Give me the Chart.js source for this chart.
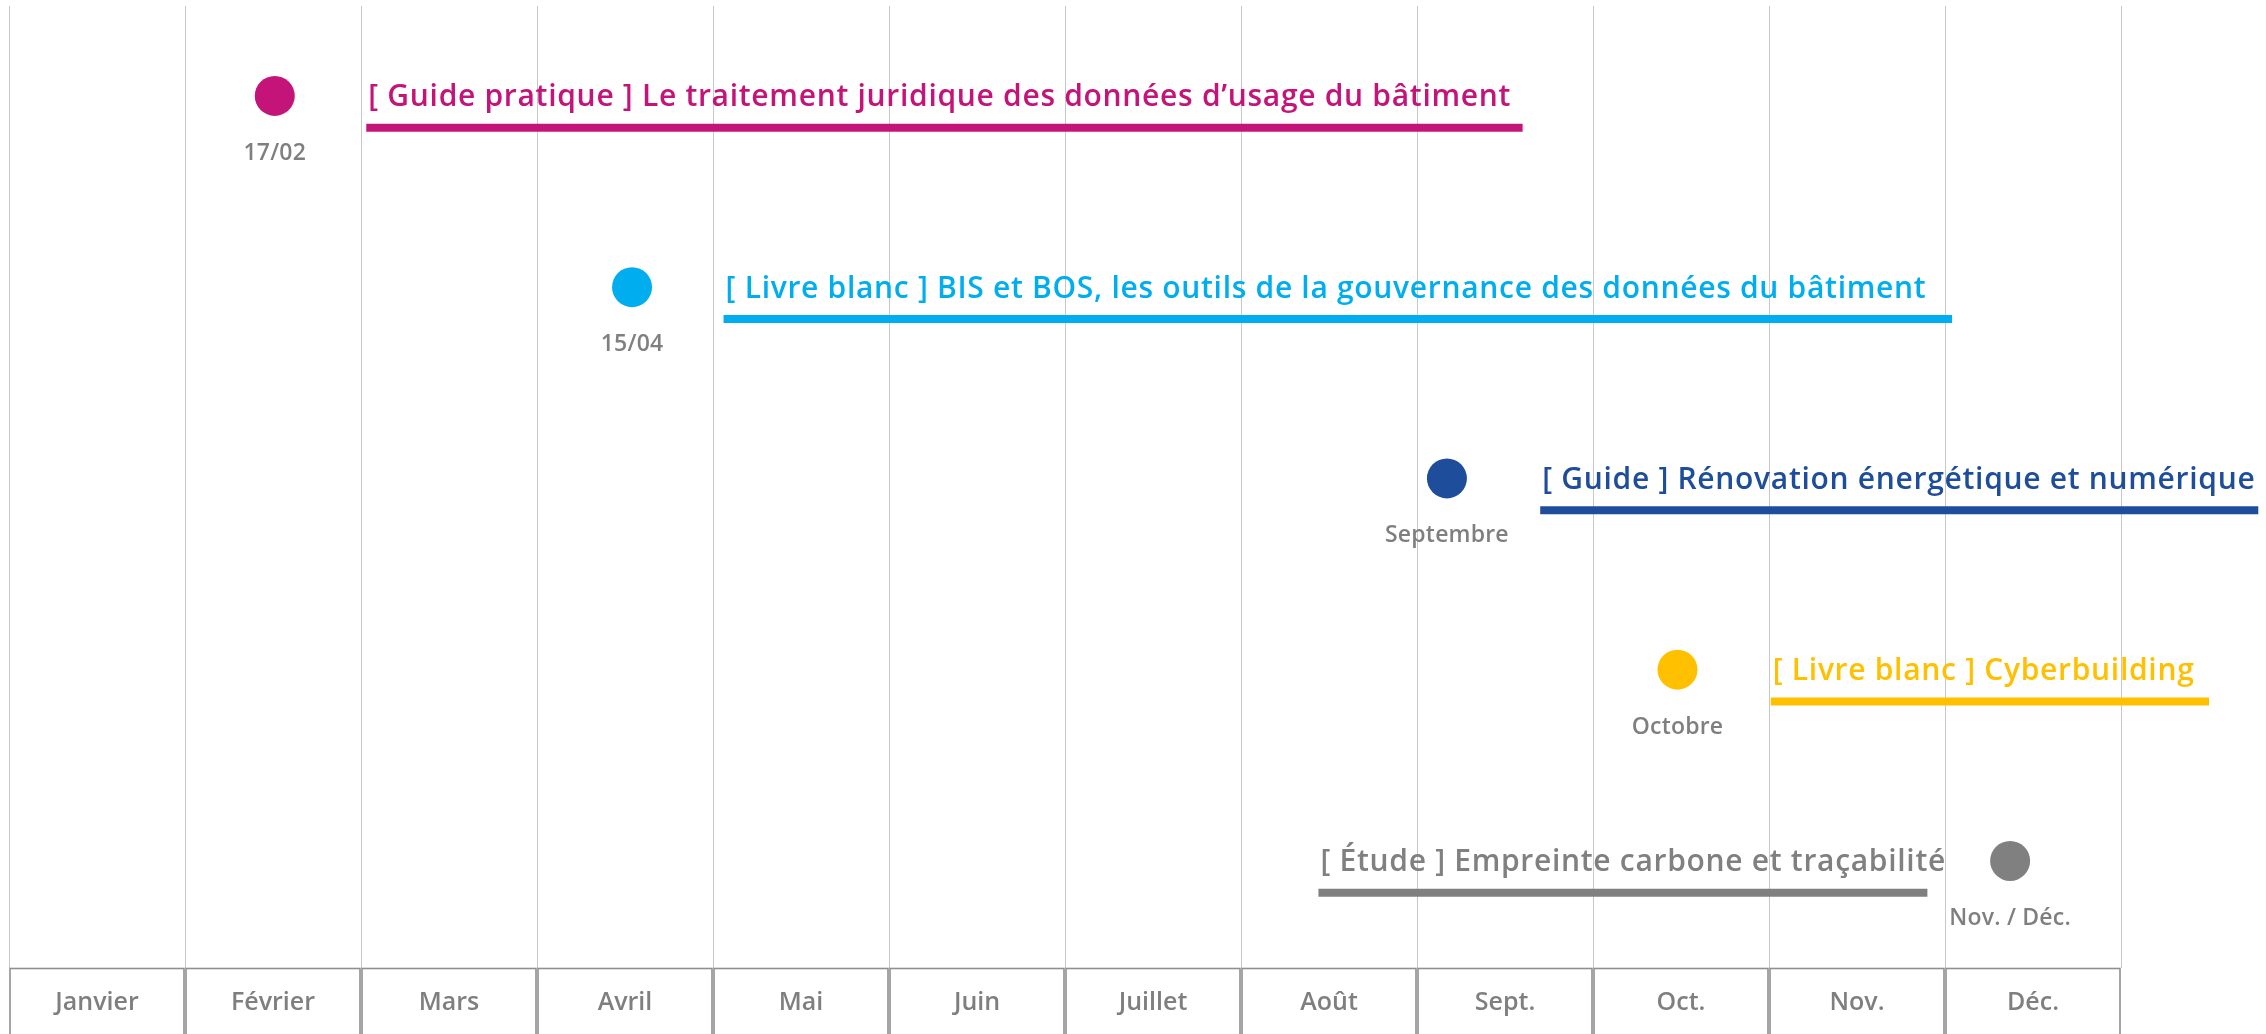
<!DOCTYPE html>
<html>
<head>
<meta charset="utf-8">
<script src="https://cdn.jsdelivr.net/npm/chart.js@4.4.1/dist/chart.umd.min.js"></script>
<style>
  html, body { margin: 0; padding: 0; background: #ffffff; }
  #wrap { width: 2266px; height: 1034px; position: relative; }
</style>
</head>
<body>
<div id="wrap"><canvas id="c"></canvas></div>
<script>
// ---- Data ----
const months = ['Janvier', 'Février', 'Mars', 'Avril', 'Mai', 'Juin', 'Juillet', 'Août', 'Sept.', 'Oct.', 'Nov.', 'Déc.'];
const eventTitles = [
  '[ Guide pratique ] Le traitement juridique des données d\u2019usage du bâtiment',
  '[ Livre blanc ] BIS et BOS, les outils de la gouvernance des données du bâtiment',
  '[ Guide ] Rénovation énergétique et numérique',
  '[ Livre blanc ] Cyberbuilding',
  '[ Étude ] Empreinte carbone et traçabilité'
];
const eventDates = ['17/02', '15/04', 'Septembre', 'Octobre', 'Nov. / Déc.'];
const eventRows = [0, 1, 2, 3, 4];
const dotMonths = [1.51, 3.54, 8.17, 9.48, 11.37];
const barStarts = [2.03, 4.06, 8.70, 10.01, 7.44];
const barEnds = [8.60, 11.04, 12.78, 12.50, 10.90];

// ---- Styles ----
const eventColors = ['#C4147A', '#00AEEF', '#1E4E9B', '#FFC000', '#808080'];
const GREY_TEXT = '#7f7f7f';
const FONT = '"Open Sans"';
const BAR_OFFSET = 0.167;   // underline below the row (row units)
const DATE_OFFSET = 0.30;   // date label below the dot (row units)

const datasets = [];
eventRows.forEach((r, i) => {
  datasets.push({
    type: 'scatter',
    showLine: true,
    data: [{ x: barStarts[i], y: r + BAR_OFFSET }, { x: barEnds[i], y: r + BAR_OFFSET }],
    borderColor: eventColors[i],
    backgroundColor: eventColors[i],
    borderWidth: 8,
    borderCapStyle: 'butt',
    pointRadius: 0,
    clip: false
  });
});
datasets.push({
  type: 'scatter',
  data: dotMonths.map((m, i) => ({ x: m, y: eventRows[i] })),
  pointRadius: 20,
  pointHoverRadius: 20,
  pointBackgroundColor: eventColors,
  pointBorderWidth: 0,
  clip: false
});

const boxesPlugin = {
  id: 'monthBoxes',
  afterDraw(chart) {
    const ctx = chart.ctx;
    const xs = chart.scales.x;
    const top = chart.chartArea.bottom;
    ctx.save();
    ctx.strokeStyle = '#8f8f8f';
    ctx.lineWidth = 1.6;
    for (let i = 0; i < months.length; i++) {
      const x1 = xs.getPixelForValue(i) + 1;
      const x2 = xs.getPixelForValue(i + 1) - 1;
      ctx.strokeRect(x1, top + 0.5, x2 - x1, chart.height + 10);
    }
    ctx.restore();
  }
};

const textPlugin = {
  id: 'eventText',
  afterDatasetsDraw(chart) {
    const ctx = chart.ctx;
    const xs = chart.scales.x, ys = chart.scales.y;
    ctx.save();
    eventRows.forEach((r, i) => {
      // title
      ctx.fillStyle = eventColors[i];
      ctx.font = '600 30px ' + FONT;
      ctx.letterSpacing = '0.7px';
      ctx.textAlign = 'left';
      ctx.textBaseline = 'middle';
      ctx.fillText(eventTitles[i], xs.getPixelForValue(barStarts[i]) + 2, ys.getPixelForValue(r) + 2);
      // date label
      ctx.fillStyle = GREY_TEXT;
      ctx.font = '600 23px ' + FONT;
      ctx.letterSpacing = '0.2px';
      ctx.textAlign = 'center';
      ctx.fillText(eventDates[i], xs.getPixelForValue(dotMonths[i]), ys.getPixelForValue(r + DATE_OFFSET));
    });
    ctx.restore();
  }
};

new Chart(document.getElementById('c'), {
  type: 'scatter',
  data: { datasets },
  options: {
    responsive: true,
    maintainAspectRatio: false,
    animation: false,
    events: [],
    layout: { autoPadding: false, padding: { left: 9, right: 145, top: 6, bottom: 0 } },
    plugins: { legend: { display: false }, tooltip: { enabled: false } },
    scales: {
      x: {
        type: 'linear', min: 0, max: 12, position: 'bottom',
        ticks: { display: false, stepSize: 1 },
        grid: { color: '#c8c8c8', lineWidth: 1, drawTicks: false },
        border: { display: false },
        afterFit(s) { s.height = 0; }
      },
      xm: {
        type: 'category', labels: months, position: 'bottom', offset: true,
        grid: { display: false, drawTicks: false },
        border: { display: false },
        ticks: { color: GREY_TEXT, font: { family: 'Open Sans', size: 25, weight: '600' }, padding: 20, maxRotation: 0, autoSkip: false },
        afterFit(s) { s.height = 66; }
      },
      y: { type: 'linear', min: -0.47, max: 4.56, reverse: true, display: false }
    }
  },
  plugins: [boxesPlugin, textPlugin]
});
</script>
</body>
</html>
